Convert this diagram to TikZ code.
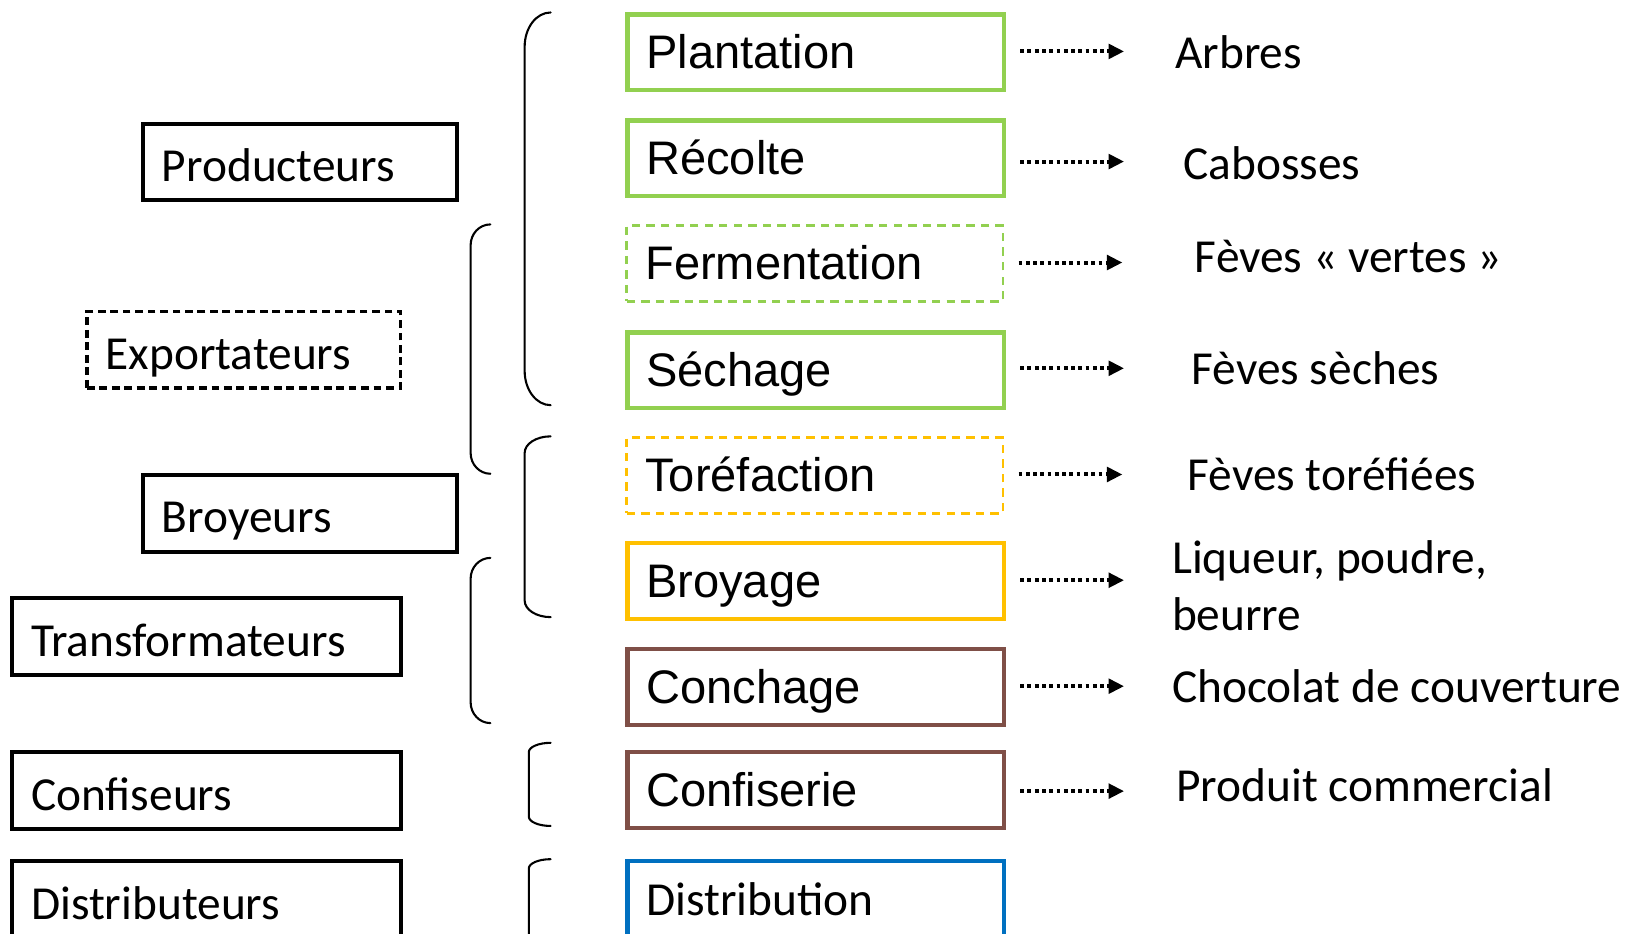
\documentclass[tikz,border=0pt]{standalone}
\usepackage{fontspec}
\setmainfont{Carlito}
\newfontfamily\arialf{Liberation Sans}
\newfontfamily\calf{Carlito}
\usetikzlibrary{arrows.meta,calc}
\definecolor{pgreen}{RGB}{146,208,80}
\definecolor{pyellow}{RGB}{255,192,0}
\definecolor{pbrown}{RGB}{127,79,71}
\definecolor{pblue}{RGB}{0,112,192}
\tikzset{
  midbox/.style={draw, line width=4pt, inner xsep=18pt, inner ysep=0pt,
    text width=326pt, align=left, text height=52pt, text depth=21pt,
    anchor=north west, font=\arialf\fontsize{45.3}{54}\selectfont},
  dashbox/.style={midbox, line width=2.4pt, dash pattern=on 8pt off 6pt},
  leftbox/.style={draw, line width=3.8pt, inner xsep=18pt, inner ysep=0pt,
    align=left, text height=56pt, text depth=18pt, anchor=north west,
    font=\calf\fontsize{45.6}{54}\selectfont},
  lab/.style={anchor=base west, inner sep=0pt, font=\calf\fontsize{45.6}{54}\selectfont},
  flow/.style={line width=3.8pt, dash pattern=on 3.6pt off 3.4pt,
    -{Triangle[length=15pt,width=14pt]}},
  brk/.style={line width=2pt, line cap=round}
}
\newcommand\bracketL[5]{%
  \draw[brk] (#1,#2) .. controls (#1-0.5523*#4,#2) and (#1-#4,#2+#5-0.5523*#5) ..
    (#1-#4,#2+#5) -- (#1-#4,#3-#5) .. controls (#1-#4,#3-#5+0.5523*#5) and
    (#1-0.5523*#4,#3) .. (#1,#3);}
\begin{document}
\begin{tikzpicture}[x=1pt,y=-1pt]
\fill[white] (0,0) rectangle (1568,899);
\useasboundingbox (0,0) rectangle (1568,899);

% middle column
\node[midbox, draw=pgreen] (plant) at (602,12) {Plantation};
\node[midbox, draw=pgreen] (recol) at (602,114) {Récolte};
\node[dashbox, draw=pgreen] (ferm) at (602,216) {Fermentation};
\node[midbox, draw=pgreen] (sech) at (602,318) {Séchage};
\node[dashbox, draw=pyellow] (tore) at (602,420) {Toréfaction};
\node[midbox, draw=pyellow] (broy) at (602,521) {Broyage};
\node[midbox, draw=pbrown] (conch) at (602,623) {Conchage};
\node[midbox, draw=pbrown] (confi) at (602,722) {Confiserie};
\node[midbox, draw=pblue, font=\calf\fontsize{45.6}{54}\selectfont] (distr) at (602,827) {Distribution};

% left column
\node[leftbox, text width=266pt] (prod) at (136,117) {Producteurs};
\node[leftbox, text width=266pt, line width=3.2pt, dash pattern=on 7.5pt off 4.5pt] (expo) at (82,298) {Exportateurs};
\node[leftbox, text width=266pt] (broyeurs) at (136,455) {Broyeurs};
\node[leftbox, text width=338pt] (transf) at (10,574) {Transformateurs};
\node[leftbox, text width=338pt] (confis) at (10,722) {Confiseurs};
\node[leftbox, text width=338pt] (distrib) at (10,827) {Distributeurs};

% right labels
\node[lab] (arbres) at (1131,66) {Arbres};
\node[lab] (cab) at (1139,173) {Cabosses};
\node[lab] (fvert) at (1150,262) {Fèves « vertes »};
\node[lab] (fsech) at (1147,370) {Fèves sèches};
\node[lab] (ftore) at (1143,472) {Fèves toréfiées};
\node[lab] (liq) at (1128,552) {Liqueur, poudre,};
\node[lab] (beur) at (1128,607) {beurre};
\node[lab] (choco) at (1128,676) {Chocolat de couverture};
\node[lab] (prodc) at (1132,771) {Produit commercial};

% arrows
\foreach \n/\dy in {plant/-1, recol/3, ferm/-1, sech/-2, tore/-1, broy/-1, conch/-1, confi/1}{
  \draw[flow] ([xshift=14pt,yshift=-\dy pt]\n.east) -- ++(100,0);
}

% brackets
\bracketL{530}{12}{390}{25}{33}
\bracketL{472}{216}{456}{19}{20}
\bracketL{530}{420}{594}{25}{16}
\bracketL{472}{537}{696}{19}{20}
\bracketL{530}{715}{795}{21}{9}
\bracketL{530}{827}{915}{21}{9}
\end{tikzpicture}
\end{document}
